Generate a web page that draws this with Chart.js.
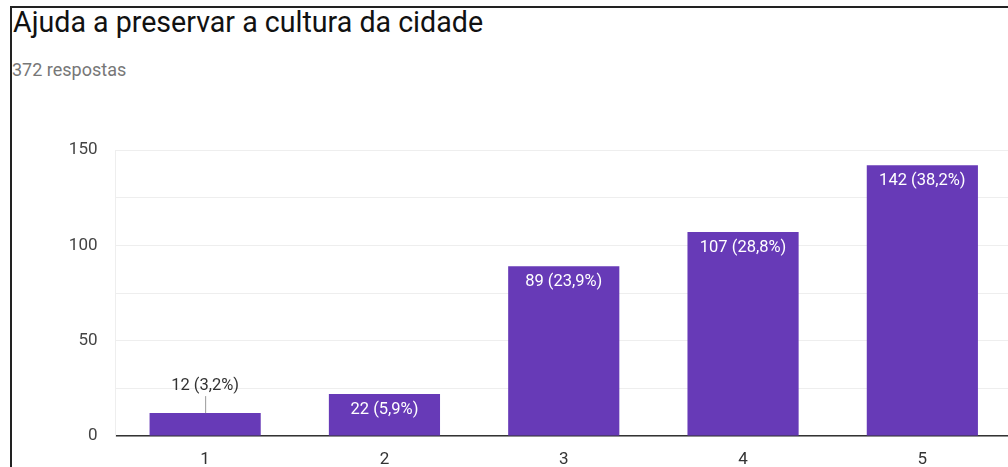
<!DOCTYPE html>
<html>
<head>
<meta charset="utf-8">
<script src="https://cdn.jsdelivr.net/npm/chart.js@4"></script>
<style>
  html, body { margin: 0; padding: 0; background: #fff; }
  body { width: 1008px; height: 467px; overflow: hidden; position: relative; font-family: Roboto, sans-serif; }
  .frame { position: absolute; left: 10px; top: 6px; width: 1100px; height: 600px; border-top: 2px solid #222; border-left: 2px solid #222; }
  .title { position: absolute; left: 13px; top: 5px; font-size: 28.6px; color: #111; white-space: nowrap; }
  .sub { position: absolute; left: 12px; top: 59px; font-size: 18px; color: #777; white-space: nowrap; }
  #wrap { position: absolute; left: 0; top: 0; width: 1012px; height: 467px; }
</style>
</head>
<body>
<div class="frame"></div>
<div class="title">Ajuda a preservar a cultura da cidade</div>
<div class="sub">372 respostas</div>
<div id="wrap"><canvas id="chart"></canvas></div>
<script>
const categories = ['1', '2', '3', '4', '5']
const counts = [12, 22, 89, 107, 142]
const yTicks = [0, 50, 100, 150]

const total = counts.reduce((a, b) => a + b, 0)
const pct = (v) => (v / total * 100).toFixed(1).replace('.', ',') + '%'

// value labels like google forms: inside the bar, or above with a small leader
const barLabels = {
  id: 'barLabels',
  afterDatasetsDraw(chart) {
    const { ctx } = chart
    const meta = chart.getDatasetMeta(0)
    ctx.save()
    ctx.font = '16.5px Roboto'
    ctx.textAlign = 'center'
    ctx.textBaseline = 'middle'
    meta.data.forEach((bar, i) => {
      const text = counts[i] + ' (' + pct(counts[i]) + ')'
      const h = bar.base - bar.y
      if (h > 30) {
        ctx.fillStyle = '#fff'
        ctx.fillText(text, bar.x, bar.y + 16)
      } else {
        ctx.strokeStyle = '#999'
        ctx.lineWidth = 1
        ctx.beginPath()
        ctx.moveTo(bar.x + 0.5, bar.y)
        ctx.lineTo(bar.x + 0.5, bar.y - 17)
        ctx.stroke()
        ctx.fillStyle = '#333'
        ctx.fillText(text, bar.x, bar.y - 27)
      }
    })
    ctx.restore()
  },
}

new Chart(document.getElementById('chart'), {
  type: 'bar',
  data: {
    labels: categories,
    datasets: [
      {
        data: counts,
        backgroundColor: '#673ab7',
        barPercentage: 0.62,
        categoryPercentage: 1,
      },
    ],
  },
  options: {
    responsive: true,
    maintainAspectRatio: false,
    animation: false,
    layout: { padding: { top: 150, left: 0, right: 0, bottom: 0 } },
    plugins: { legend: { display: false }, tooltip: { enabled: false } },
    scales: {
      x: {
        grid: { display: false },
        border: { color: '#333', width: 1.5 },
        ticks: { color: '#333', font: { size: 17, family: 'Roboto' }, padding: 6 },
        afterFit: (s) => { s.height = 31 },
      },
      y: {
        min: 0,
        max: 150,
        grid: { color: '#eeeeee', drawTicks: false },
        border: { color: '#eeeeee' },
        ticks: {
          stepSize: 25,
          color: '#444',
          font: { size: 17, family: 'Roboto' },
          padding: 18,
          callback: (v) => (yTicks.includes(v) ? v : ''),
        },
        afterFit: (s) => { s.width = 115.5 },
      },
    },
  },
  plugins: [barLabels],
})
</script>
</body>
</html>
